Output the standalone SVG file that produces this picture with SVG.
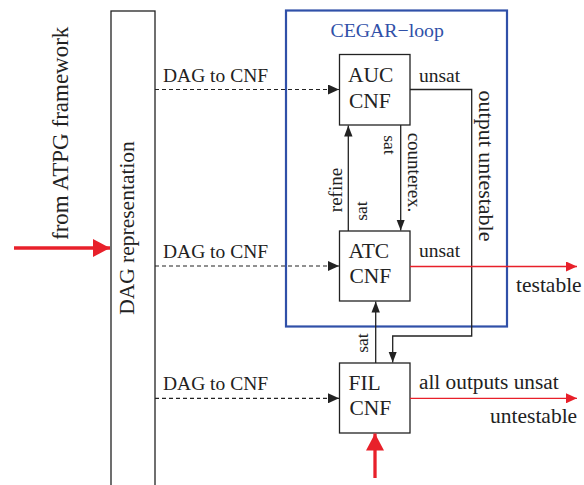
<svg xmlns="http://www.w3.org/2000/svg" width="584" height="485" viewBox="0 0 584 485">
<style>
text{font-family:"Liberation Serif","Times New Roman",serif;fill:#222}
.box{fill:#fff;stroke:#222;stroke-width:1.3}
.ln{fill:none;stroke:#222;stroke-width:1.3}
.dash{fill:none;stroke:#222;stroke-width:1.2;stroke-dasharray:4 3}
.red{fill:none;stroke:#e8202a;stroke-width:1.3}
.redt{fill:none;stroke:#e8202a;stroke-width:3.3}
.lbl{font-size:19.5px}
.bx{font-size:21.5px}
.sm{font-size:17.5px}
</style>
<defs>
<marker id="ab" markerUnits="userSpaceOnUse" markerWidth="12" markerHeight="10" refX="11" refY="5" orient="auto"><path d="M0,0.8 L11,5 L0,9.2 z" fill="#222"/></marker>
<marker id="ad" markerUnits="userSpaceOnUse" markerWidth="12" markerHeight="10" refX="11" refY="5" orient="auto"><path d="M0,0 L11,5 L0,10 z" fill="#222"/></marker>
<marker id="ar" markerUnits="userSpaceOnUse" markerWidth="12" markerHeight="10" refX="11" refY="5" orient="auto"><path d="M0,0 L11,5 L0,10 z" fill="#e8202a"/></marker>
<marker id="arb" markerUnits="userSpaceOnUse" markerWidth="18" markerHeight="18" refX="17" refY="9" orient="auto"><path d="M0,0 L17,9 L0,18 z" fill="#e8202a"/></marker>
</defs>

<g id="cegar">
<rect x="286" y="10.5" width="221" height="316" fill="none" stroke="#3050a8" stroke-width="2.2"/>
<text x="330.5" y="36.7" style="font-size:19.8px;fill:#3050a8">CEGAR−loop</text>
</g>

<g id="dag">
<rect x="111" y="11" width="44" height="500" class="box"/>
<text class="bx" transform="translate(134,228) rotate(-90)" text-anchor="middle">DAG representation</text>
</g>

<g id="auc">
<rect x="339.5" y="54.5" width="70.5" height="70.5" class="box"/>
<text class="bx" x="348" y="81.7">AUC</text>
<text class="bx" x="349" y="108.3">CNF</text>
</g>

<g id="atc">
<rect x="339.5" y="231" width="70.5" height="70" class="box"/>
<text class="bx" x="348.5" y="258.3">ATC</text>
<text class="bx" x="349.5" y="283">CNF</text>
</g>

<g id="fil">
<rect x="339.5" y="363" width="70.5" height="70" class="box"/>
<text class="bx" x="348.5" y="390">FIL</text>
<text class="bx" x="349.5" y="415">CNF</text>
</g>

<g id="connectors">
<path class="redt" d="M14,248 H110" marker-end="url(#arb)"/>
<text transform="translate(68,133.3) rotate(-90)" text-anchor="middle" style="font-size:23px">from ATPG framework</text>

<path class="dash" d="M155,89.5 H339" marker-end="url(#ad)"/>
<text class="lbl" x="163" y="81.5">DAG to CNF</text>
<path class="dash" d="M155,266 H339" marker-end="url(#ad)"/>
<text class="lbl" x="163" y="257.7">DAG to CNF</text>
<path class="dash" d="M155,398.3 H339" marker-end="url(#ad)"/>
<text class="lbl" x="163" y="390">DAG to CNF</text>

<path class="ln" d="M410,89.5 H471.7 V336 H392.7 V362.5" marker-end="url(#ab)"/>
<text class="lbl" x="419" y="81.7">unsat</text>
<text transform="translate(479,166) rotate(90)" text-anchor="middle" style="font-size:22px">output untestable</text>

<path class="ln" d="M400.7,125 V230.5" marker-end="url(#ab)"/>
<text class="sm" transform="translate(383.5,145) rotate(90)" text-anchor="middle">sat</text>
<text transform="translate(408,172.5) rotate(90)" text-anchor="middle" style="font-size:19px">counterex.</text>

<path class="ln" d="M348.3,231 V125.5" marker-end="url(#ab)"/>
<text transform="translate(342,190) rotate(-90)" text-anchor="middle" style="font-size:19px">refine</text>
<text class="sm" transform="translate(367,211) rotate(-90)" text-anchor="middle">sat</text>

<path class="ln" d="M375.7,363 V301.5" marker-end="url(#ab)"/>
<text class="sm" transform="translate(367.5,343) rotate(-90)" text-anchor="middle">sat</text>

<path class="red" d="M410,266.5 H577" marker-end="url(#ar)"/>
<text class="lbl" x="419" y="256.7">unsat</text>
<text x="516" y="291.7" style="font-size:21.5px">testable</text>

<path class="red" d="M410,398.3 H577" marker-end="url(#ar)"/>
<text x="419" y="389.3" style="font-size:21.3px">all outputs unsat</text>
<text x="490" y="423" style="font-size:21.5px">untestable</text>

<path class="redt" d="M375,478 V433.5" marker-end="url(#arb)"/>
</g>
</svg>
